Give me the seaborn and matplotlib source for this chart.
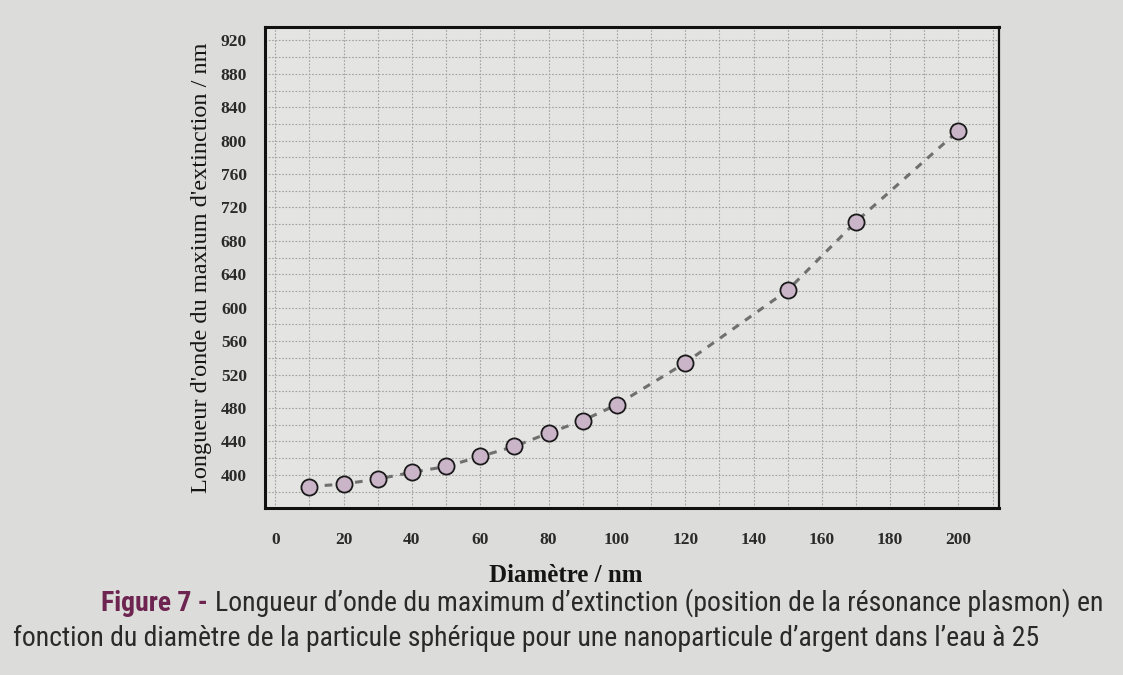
import matplotlib
matplotlib.use("Agg")
import matplotlib.pyplot as plt
import matplotlib.ticker as mticker
import seaborn as sb
import pandas as pd

# Donnees
diametre = [10, 20, 30, 40, 50, 60, 70, 80, 90, 100, 120, 150, 170, 200]
longueur_onde = [386, 389, 395, 403, 410, 422, 434, 450, 465, 484, 534, 621, 703, 812]

titre_x = "Diamètre / nm"
titre_y = "Longueur d'onde du maxium d'extinction / nm"
legende_0 = "Figure 7 -"
legende_1 = ("Longueur d\u2019onde du maximum d\u2019extinction "
             "(position de la résonance plasmon) en")
legende_2 = ("fonction du diamètre de la particule sphérique pour une "
             "nanoparticule d\u2019argent dans l\u2019eau à 25")

t = pd.DataFrame({"d": diametre, "lambda": longueur_onde})

sb.set_style("white")
plt.rcParams["font.family"] = ["Liberation Serif", "DejaVu Serif"]

fig = plt.figure(figsize=(11.23, 6.75), dpi=100)
fig.patch.set_facecolor("#dcdcda")
ax = fig.add_axes([0.236, 0.247, 0.654, 0.713])
ax.set_facecolor("#e4e4e2")

sb.lineplot(x="d", y="lambda", data=t, ax=ax, color="#707070",
            linestyle=(0, (2.5, 2.5)), linewidth=2.2, zorder=2)
sb.scatterplot(x="d", y="lambda", data=t, ax=ax, s=135, color="#c9b4c8",
               edgecolor="#1a1a1a", linewidth=1.3, zorder=3)

ax.set_xlim(-3, 212)
ax.set_ylim(360, 936)
ax.xaxis.set_major_locator(mticker.MultipleLocator(20))
ax.xaxis.set_minor_locator(mticker.MultipleLocator(10))
ax.set_yticks([400 + 40 * i for i in range(14)])
ax.yaxis.set_minor_locator(mticker.MultipleLocator(20))

ax.grid(which="both", color="#a2a2a2", linestyle=(0, (1.5, 1.5)), linewidth=0.8)
ax.set_axisbelow(True)
for s in ax.spines.values():
    s.set_color("#111111")
    s.set_linewidth(1.6)
ax.spines["left"].set_linewidth(2.2)
ax.spines["bottom"].set_linewidth(2.2)
ax.spines["top"].set_linewidth(2.2)

ax.tick_params(which="major", direction="out", length=9, width=2,
               labelsize=12.5, color="#111111")
ax.tick_params(which="minor", direction="out", length=7, width=2,
               color="#111111")
ax.tick_params(axis="x", pad=8)
ax.tick_params(axis="y", pad=4)
for lab in ax.get_xticklabels() + ax.get_yticklabels():
    lab.set_fontweight("bold")
    lab.set_color("#2a2a2a")

ax.set_xlabel(titre_x, fontsize=18, fontweight="bold", color="#151515")
ax.xaxis.set_label_coords(0.41, -0.115)
ax.set_ylabel(titre_y, fontsize=17.5, color="#151515", labelpad=6)

# Legende sous la figure
fam = ["Roboto Condensed", "Roboto", "DejaVu Sans"]
taille = 22
while True:
    t0 = fig.text(0.09, 0.095, legende_0, fontsize=taille, fontweight="bold",
                  color="#6e2450", family=fam, va="baseline")
    fig.canvas.draw()
    r = fig.canvas.get_renderer()
    b0 = t0.get_window_extent(r)
    x1 = (b0.x1 + 7) / fig.bbox.width
    t1 = fig.text(x1, 0.095, legende_1, fontsize=taille, color="#2a2a2a",
                  family=fam, va="baseline")
    t2 = fig.text(0.012, 0.043, legende_2, fontsize=taille, color="#2a2a2a",
                  family=fam, va="baseline")
    fig.canvas.draw()
    largeur = max(t1.get_window_extent(r).x1, t2.get_window_extent(r).x1)
    if largeur < fig.bbox.width - 6 or taille < 10:
        break
    for tt in (t0, t1, t2):
        tt.remove()
    taille -= 0.5

fig.savefig("out.png", dpi=100, facecolor=fig.get_facecolor())
